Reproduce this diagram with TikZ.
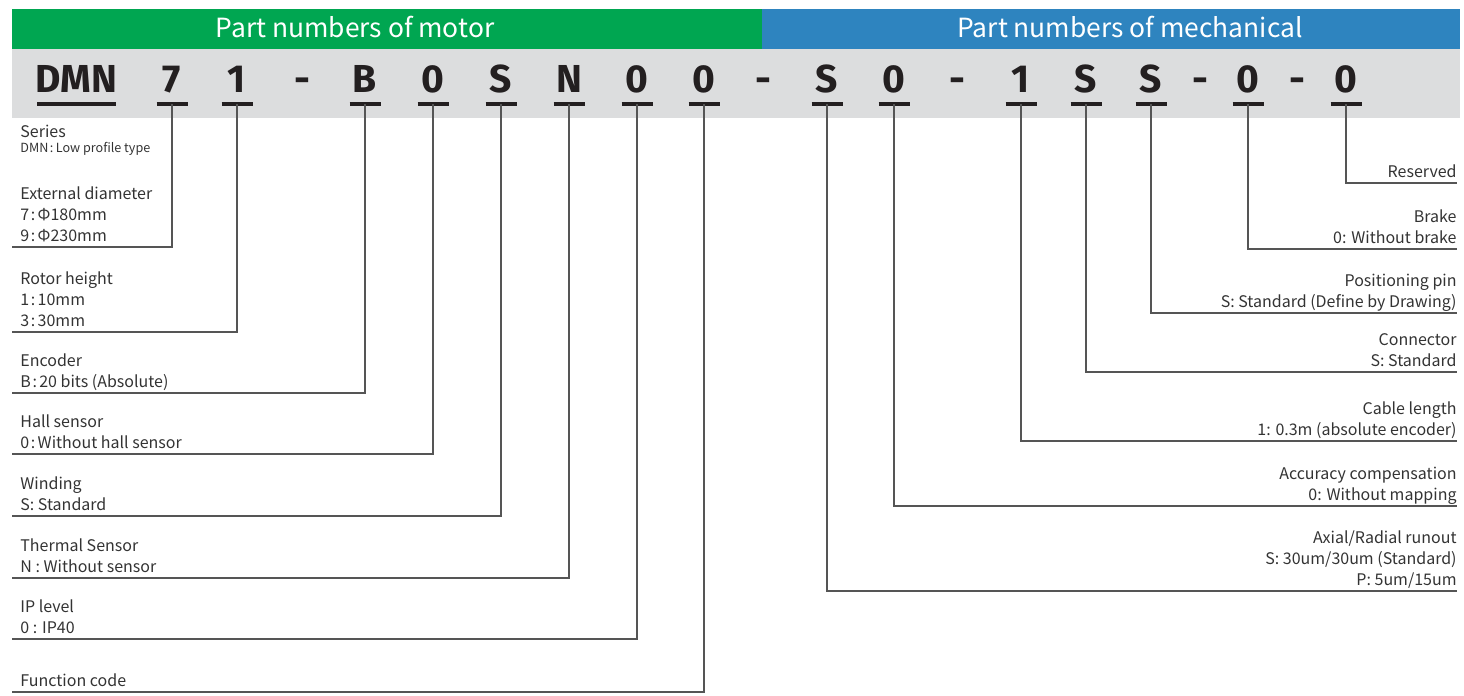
\documentclass[tikz,border=0pt]{standalone}
\usepackage{fontspec}
\setmainfont{Noto Sans CJK SC}
\newfontfamily\codefont{Fira Sans}
\definecolor{hgreen}{HTML}{00A651}
\definecolor{hblue}{HTML}{2E84BF}
\definecolor{hgray}{HTML}{DCDDDE}
\definecolor{ink}{HTML}{231F20}
\definecolor{labink}{HTML}{333333}
\definecolor{wirec}{HTML}{555555}
\newcommand\lstrut{\rule[-2.6pt]{0pt}{0pt}}
\newcommand\cc{\kern0.8pt:\kern1.2pt}
\begin{document}
\begin{tikzpicture}[x=0.5pt,y=-0.5pt,
  code/.style={font=\codefont\bfseries\fontsize{19.5}{20}\selectfont, text=ink, anchor=base, inner sep=0pt},
  uline/.style={draw=ink, line width=1.6pt},
  wire/.style={draw=wirec, line width=0.65pt},
  llab/.style={anchor=south west, align=left, font=\fontsize{8}{10.5}\selectfont, text=labink, inner xsep=4pt, inner ysep=0pt, execute at end node=\lstrut},
  rlab/.style={anchor=south east, align=right, font=\fontsize{8}{10.5}\selectfont, text=labink, inner xsep=0pt, inner ysep=0pt, execute at end node=\lstrut},
  head/.style={text=white, font=\fontsize{13.2}{14}\selectfont, anchor=base, inner sep=0pt}]
\useasboundingbox (0,0) rectangle (1464,696);
% header bars
\fill[hgreen] (12,9) rectangle (762,49);
\fill[hblue] (762,9) rectangle (1460,49);
\fill[hgray] (12,49) rectangle (1460,118);
\node[head] (hm) at (355,38) {Part numbers of motor};
\node[head] (hc) at (1130,38) {Part numbers of mechanical};
% code letters
\node[code] (cDMN) at (76.5,92) {DMN};
\node[code] (c7) at (172,92) {7};
\node[code] (c1) at (237,92) {1};
\node[code] (d1) at (302,92) {-};
\node[code] (cB) at (365,92) {B};
\node[code] (c0a) at (433,92) {0};
\node[code] (cS) at (501,92) {S};
\node[code] (cN) at (569,92) {N};
\node[code] (c0b) at (637,92) {0};
\node[code] (c0c) at (704,92) {0};
\node[code] (d2) at (763,92) {-};
\node[code] (cS2) at (827,92) {S};
\node[code] (c0d) at (894,92) {0};
\node[code] (d3) at (957,92) {-};
\node[code] (c1b) at (1021,92) {1};
\node[code] (cSb) at (1086,92) {S};
\node[code] (cSc) at (1151,92) {S};
\node[code] (d4) at (1200,92) {-};
\node[code] (c0e) at (1248,92) {0};
\node[code] (d5) at (1297,92) {-};
\node[code] (c0f) at (1346,92) {0};
% underline anchors
\foreach \n/\x in {7/172,1/237,B/365,0a/433,S/501,N/569,0b/637,0c/704,S2/827,0d/894,1b/1021,Sb/1086,Sc/1151,0e/1248,0f/1346}{
  \coordinate (u\n) at (\x,104);
  \draw[uline] ([xshift=-7.75pt]u\n) -- ([xshift=7.75pt]u\n);
}
\draw[uline] (37,104) -- (116,104);
% series (no connector)
\node[anchor=base west, inner sep=0pt, font=\fontsize{8}{10}\selectfont, text=labink] (lser) at (20,137) {Series};
\node[anchor=base west, inner sep=0pt, font=\fontsize{6.3}{8}\selectfont, text=labink] (lser2) at (20,152) {DMN\cc Low profile type};
% left labels
\node[llab] (l7) at (12,247) {External diameter\\7\cc Φ180mm\\9\cc Φ230mm};
\node[llab] (l1) at (12,332) {Rotor height\\1\cc 10mm\\3\cc 30mm};
\node[llab] (lB) at (12,393) {Encoder\\B\cc 20 bits (Absolute)};
\node[llab] (l0a) at (12,454) {Hall sensor\\0\cc Without hall sensor};
\node[llab] (lS) at (12,516) {Winding\\S: Standard};
\node[llab] (lN) at (12,578) {Thermal Sensor\\N : Without sensor};
\node[llab] (l0b) at (12,639) {IP level\\0 : IP40};
\node[llab] (l0c) at (12,692) {Function code};
% right labels
\node[rlab] (r0f) at (1457,183) {Reserved};
\node[rlab] (r0e) at (1457,249) {Brake\\0: Without brake};
\node[rlab] (rSc) at (1457,313) {Positioning pin\\S: Standard (Define by Drawing)};
\node[rlab] (rSb) at (1457,372) {Connector\\S: Standard};
\node[rlab] (r1b) at (1457,441) {Cable length\\1: 0.3m (absolute encoder)};
\node[rlab] (r0d) at (1457,506) {Accuracy compensation\\0: Without mapping};
\node[rlab] (rS2) at (1457,591) {Axial/Radial runout\\S: 30um/30um (Standard)\\P: 5um/15um};
% connectors
\foreach \n in {7,1,B,0a,S,N,0b,0c}{
  \draw[wire] (u\n) |- (l\n.south west);
}
\foreach \n in {0f,0e,Sc,Sb,1b,0d,S2}{
  \draw[wire] (u\n) |- (r\n.south east);
}
\end{tikzpicture}
\end{document}
